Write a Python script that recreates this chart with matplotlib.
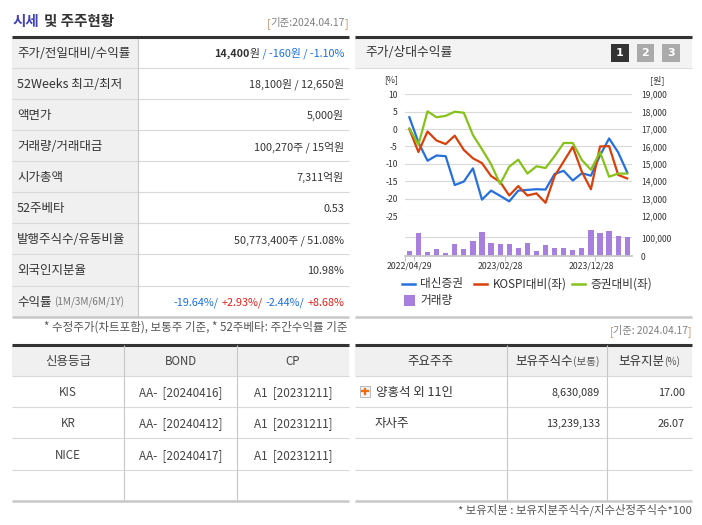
import numpy as np
import matplotlib
matplotlib.use("Agg")
import matplotlib.pyplot as plt
from matplotlib.patches import Rectangle

plt.rcParams['font.family'] = ['Noto Sans CJK KR', 'DejaVu Sans']

# ---- chart data ----
dates = ["2022/04/29", "2022/05/31", "2022/06/30", "2022/07/29", "2022/08/31",
         "2022/09/30", "2022/10/31", "2022/11/30", "2022/12/29", "2023/01/31",
         "2023/02/28", "2023/03/31", "2023/04/28", "2023/05/31", "2023/06/30",
         "2023/07/31", "2023/08/31", "2023/09/27", "2023/10/31", "2023/11/30",
         "2023/12/28", "2024/01/31", "2024/02/29", "2024/03/29", "2024/04/17"]
daeshin = [3.4, -3.8, -9.1, -7.6, -7.8, -16.1, -15.1, -11.3, -20.3, -17.7,
           -19.2, -20.8, -17.7, -17.5, -17.3, -17.4, -12.9, -12.0, -14.8, -12.7,
           -13.4, -7.6, -2.7, -6.7, -12.5]
kospi_rel = [0.0, -6.6, -0.7, -3.3, -4.3, -1.9, -6.0, -8.4, -9.8, -13.5,
             -15.2, -19.1, -16.4, -19.1, -18.5, -21.2, -13.5, -9.3, -5.1, -12.3,
             -17.3, -5.0, -4.9, -13.2, -14.2]
sector_rel = [0.2, -4.5, 5.1, 3.4, 3.8, 5.0, 4.7, -1.7, -5.8, -10.1,
              -15.8, -10.8, -8.8, -12.8, -10.7, -11.2, -7.8, -4.0, -4.0, -8.9,
              -11.7, -6.6, -13.7, -12.8, -12.8]
volume = [27000, 123000, 21000, 37000, 16000, 64000, 37000, 80000, 128000, 70000,
          64000, 64000, 43000, 70000, 27000, 59000, 43000, 43000, 32000, 43000,
          139000, 123000, 134000, 107000, 100270]
label_idx = [0, 10, 20]
left_ticks = [10, 5, 0, -5, -10, -15, -20, -25]
price_ticks = [19000, 18000, 17000, 16000, 15000, 14000, 13000, 12000]

# ---- table data ----
info_labels = ["주가/전일대비/수익률", "52Weeks 최고/최저", "액면가", "거래량/거래대금",
               "시가총액", "52주베타", "발행주식수/유동비율", "외국인지분율", "수익률"]
info_values = ["", "18,100원 / 12,650원", "5,000원", "100,270주 / 15억원",
               "7,311억원", "0.53", "50,773,400주 / 51.08%", "10.98%", ""]
returns = ["-19.64%/", "+2.93%/", "-2.44%/", "+8.68%"]
credit_header = ["신용등급", "BOND", "CP"]
credit_rows = [["KIS", "AA-  [20240416]", "A1  [20231211]"],
               ["KR", "AA-  [20240412]", "A1  [20231211]"],
               ["NICE", "AA-  [20240417]", "A1  [20231211]"]]
holders = ["양홍석 외 11인", "자사주"]
holder_shares = ["8,630,089", "13,239,133"]
holder_pct = ["17.00", "26.07"]

DARK = "#333333"
BLUE_T = "#1a6fe0"
RED_T = "#e0201a"
GRAY_BG = "#f0f0f0"
LINE = "#d9d9d9"

W, H = 702, 525
fig = plt.figure(figsize=(W / 100, H / 100), dpi=100)
base = fig.add_axes([0, 0, 1, 1])
base.set_xlim(0, W)
base.set_ylim(H, 0)
base.axis("off")
renderer = fig.canvas.get_renderer()


def seg_text(x, y, parts, ha="left"):
    # parts: (text, color, size, weight, gap_after)
    texts, widths = [], []
    for s, c, sz, wt, gap in parts:
        t = base.text(0, y, s, color=c, fontsize=sz, fontweight=wt,
                      ha="left", va="baseline")
        texts.append(t)
        widths.append(t.get_window_extent(renderer).width + gap)
    total = sum(widths)
    start = x if ha == "left" else (x - total if ha == "right" else x - total / 2)
    for t, w in zip(texts, widths):
        t.set_x(start)
        start += w


def hline(y, x0, x1, color=LINE, lw=0.8):
    base.plot([x0, x1], [y, y], color=color, lw=lw, solid_capstyle="butt")


def vline(x, y0, y1, color="#c8c8c8", lw=0.8):
    base.plot([x, x], [y0, y1], color=color, lw=lw, solid_capstyle="butt")


FS = 7.8     # numbers
KFS = 9.0    # korean labels

# ---------------- left: 시세 및 주주현황 ----------------
seg_text(13, 26, [("시세", "#4343b3", 10.5, "bold", 4),
                  ("및 주주현황", DARK, 10.5, "bold", 0)])
seg_text(348, 26, [("[", "#c09060", 7.5, "normal", 0),
                   ("기준:2024.04.17", "#808080", 7.5, "normal", 0),
                   ("]", "#c09060", 7.5, "normal", 0)], ha="right")

top, rh = 36.7, 31.1
base.add_patch(Rectangle((12, top), 125.7, rh * 9, color=GRAY_BG, lw=0))
for i in range(1, 9):
    hline(top + rh * i, 12, 349)
vline(137.7, top, top + rh * 9)
hline(top, 12, 349, color=DARK, lw=2.2)
hline(top + rh * 9, 12, 349, color="#c8c8c8", lw=1.8)

for i, lab in enumerate(info_labels):
    yb = top + rh * i + rh / 2 + 4.5
    if i == 8:
        seg_text(17, yb, [(lab, DARK, KFS, "normal", 3),
                          ("(1M/3M/6M/1Y)", "#777777", 7.2, "normal", 0)])
    else:
        seg_text(17, yb, [(lab, DARK, KFS, "normal", 0)])
    if i == 0:
        seg_text(344, yb, [("14,400", DARK, FS, "bold", 0),
                           ("원", DARK, FS, "normal", 0),
                           (" / -160원 / -1.10%", BLUE_T, FS, "normal", 0)], ha="right")
    elif i == 8:
        cols = [BLUE_T, RED_T, BLUE_T, RED_T]
        seg_text(344, yb, [(r, c, FS, "normal", 3 if k < 3 else 0)
                           for k, (r, c) in enumerate(zip(returns, cols))], ha="right")
    else:
        seg_text(344, yb, [(info_values[i], DARK, FS, "normal", 0)], ha="right")

seg_text(348, 331, [("* 수정주가(차트포함), 보통주 기준, * 52주베타: 주간수익률 기준",
                     "#555555", 8.3, "normal", 0)], ha="right")

# ---------------- credit table ----------------
ct, crh = 345, 31.2
base.add_patch(Rectangle((12, ct), 337, 31, color=GRAY_BG, lw=0))
for i in range(1, 5):
    hline(ct + crh * i - 0.3, 12, 349)
hline(ct, 12, 349, color=DARK, lw=2.2)
hline(500.7, 12, 349, color="#c8c8c8", lw=1.8)
ccols = [12, 124.3, 236.7, 349]
for x in ccols[1:3]:
    vline(x, ct, 500.7)
for j, h in enumerate(credit_header):
    cx = (ccols[j] + ccols[j + 1]) / 2
    seg_text(cx, ct + 15.5 + 4.5, [(h, "#444444", KFS if j == 0 else 8.3, "normal", 0)],
             ha="center")
for i, row in enumerate(credit_rows):
    for j, v in enumerate(row):
        cx = (ccols[j] + ccols[j + 1]) / 2
        seg_text(cx, ct + crh * (i + 1) + 15.5 + 4.5, [(v, "#444444", 8.4, "normal", 0)],
                 ha="center")

# ---------------- right: chart box ----------------
base.add_patch(Rectangle((355, 37), 336.7, 31, color="#f3f3f3", lw=0))
hline(68.3, 355, 691.7, color="#dddddd")
hline(36.7, 355, 691.7, color=DARK, lw=2.2)
hline(316.7, 355, 691.7, color="#c8c8c8", lw=1.8)
seg_text(365, 56.5, [("주가/상대수익률", DARK, 9.2, "normal", 0)])
for k, (bx, bc) in enumerate(zip([611, 636.5, 662], ["#333333", "#aaaaaa", "#aaaaaa"])):
    base.add_patch(Rectangle((bx, 44), 17.5, 17.5, color=bc, lw=0))
    base.text(bx + 8.75, 53, str(k + 1), color="white", fontsize=8,
              fontweight="bold", ha="center", va="center", family="DejaVu Sans")

base.text(391, 80, "[%]", color=DARK, fontsize=6.3, ha="center", va="center")
base.text(657, 80, "[원]", color=DARK, fontsize=6.5, ha="center", va="center")


def px_axes(x0, y0, x1, y1):
    return fig.add_axes([x0 / W, 1 - y1 / H, (x1 - x0) / W, (y1 - y0) / H])


x = np.arange(len(dates))
ax = px_axes(404.8, 94.3, 631.8, 216)
ax.set_xlim(-0.5, len(dates) - 0.5)
ax.set_ylim(-25, 10)
ax.set_yticks(left_ticks)
ax.set_yticklabels([str(t) for t in left_ticks])
ax.tick_params(axis="y", length=0, labelsize=6.2, pad=5, labelcolor=DARK)
ax.set_xticks([])
ax.grid(axis="y", color="#d9d9d9", lw=0.8)
for s in ax.spines.values():
    s.set_visible(False)
ax.patch.set_alpha(0)
ax.plot(x, daeshin, color="#2670dc", lw=1.6, label="대신증권")
ax.plot(x, kospi_rel, color="#d8400c", lw=1.6, label="KOSPI대비(좌)")
ax.plot(x, sector_rel, color="#86c21a", lw=1.6, label="증권대비(좌)")
ax2 = ax.twinx()
ax2.set_ylim(12000, 19000)
ax2.set_yticks(price_ticks)
ax2.set_yticklabels([f"{t:,}" for t in price_ticks])
ax2.tick_params(axis="y", length=0, labelsize=6.1, pad=6.5, labelcolor=DARK)
for s in ax2.spines.values():
    s.set_visible(False)

axv = px_axes(404.8, 228, 631.8, 256)
axv.set_xlim(-0.5, len(dates) - 0.5)
axv.set_ylim(0, 150000)
axv.bar(x, volume, width=0.58, color="#a77fdf", zorder=2)
axv.axhline(100000, color="#d9d9d9", lw=0.8, zorder=1)
axv.yaxis.tick_right()
axv.set_yticks([0, 100000])
axv.set_yticklabels(["0", "100,000"])
axv.tick_params(axis="y", length=0, labelsize=6.1, pad=6.5, labelcolor=DARK)
for s in axv.spines.values():
    s.set_visible(False)
axv.spines["bottom"].set_visible(True)
axv.spines["bottom"].set_color("#c8c8c8")
axv.spines["bottom"].set_linewidth(1.3)
axv.set_xticks([-0.5, 0.5, 10.5, 20.5])
axv.set_xticklabels([])
axv.tick_params(axis="x", which="major", length=3.5, color="#c8c8c8", width=0.8)
axv.set_xticks(label_idx, minor=True)
axv.set_xticklabels([dates[i] for i in label_idx], minor=True)
axv.tick_params(axis="x", which="minor", length=0, labelsize=6.3, pad=4, labelcolor=DARK)
axv.patch.set_alpha(0)

# legend
leg = [("대신증권", "#2670dc", 401.7, 283.5), ("KOSPI대비(좌)", "#d8400c", 474, 283.5),
       ("증권대비(좌)", "#86c21a", 571.7, 283.5)]
for name, c, lx, ly in leg:
    base.plot([lx, lx + 13.3], [ly, ly], color=c, lw=1.8)
    seg_text(lx + 18.5, ly + 3.8, [(name, DARK, 8.4, "normal", 0)])
base.add_patch(Rectangle((404, 294.5), 11, 11, color="#a77fdf", lw=0))
seg_text(420, 303.8, [("거래량", DARK, 8.4, "normal", 0)])

# ---------------- shareholders table ----------------
seg_text(691.5, 334, [("[", "#c09060", 7.3, "normal", 0),
                      ("기준: 2024.04.17", "#808080", 7.3, "normal", 0),
                      ("]", "#c09060", 7.3, "normal", 0)], ha="right")
st = 345
base.add_patch(Rectangle((355, st), 336.7, 31, color=GRAY_BG, lw=0))
for i in range(1, 5):
    hline(st + crh * i - 0.3, 355, 691.7)
hline(st, 355, 691.7, color=DARK, lw=2.2)
hline(500.7, 355, 691.7, color="#c8c8c8", lw=1.8)
scols = [355, 506.7, 607.3, 691.7]
for xx in scols[1:3]:
    vline(xx, st, 500.7)
hy = st + 15.5 + 4.5
seg_text((scols[0] + scols[1]) / 2, hy, [("주요주주", DARK, KFS, "normal", 0)], ha="center")
seg_text((scols[1] + scols[2]) / 2, hy, [("보유주식수", DARK, KFS, "normal", 0),
                                         ("(보통)", "#555555", 7.6, "normal", 0)], ha="center")
seg_text((scols[2] + scols[3]) / 2, hy, [("보유지분", DARK, KFS, "normal", 0),
                                         ("(%)", "#555555", 7.2, "normal", 0)], ha="center")
for i, name in enumerate(holders):
    yb = st + crh * (i + 1) + 15.5 + 4.5
    if i == 0:
        base.add_patch(Rectangle((359.5, yb - 10), 10.5, 10.5, facecolor="#f4f4f4",
                                 edgecolor="#b0b0b0", lw=0.6))
        base.plot([361.8, 367.7], [yb - 4.75, yb - 4.75], color="#f06a10", lw=1.6)
        base.plot([364.75, 364.75], [yb - 7.7, yb - 1.8], color="#f06a10", lw=1.6)
        seg_text(376, yb, [(name, DARK, KFS, "normal", 0)])
    else:
        seg_text(375, yb, [(name, DARK, KFS, "normal", 0)])
    seg_text(600, yb, [(holder_shares[i], DARK, FS, "normal", 0)], ha="right")
    seg_text(685, yb, [(holder_pct[i], DARK, FS, "normal", 0)], ha="right")

seg_text(692, 514, [("* 보유지분 : 보유지분주식수/지수산정주식수*100", "#555555", 8.2, "normal", 0)],
         ha="right")

fig.savefig("out.png", dpi=100)
